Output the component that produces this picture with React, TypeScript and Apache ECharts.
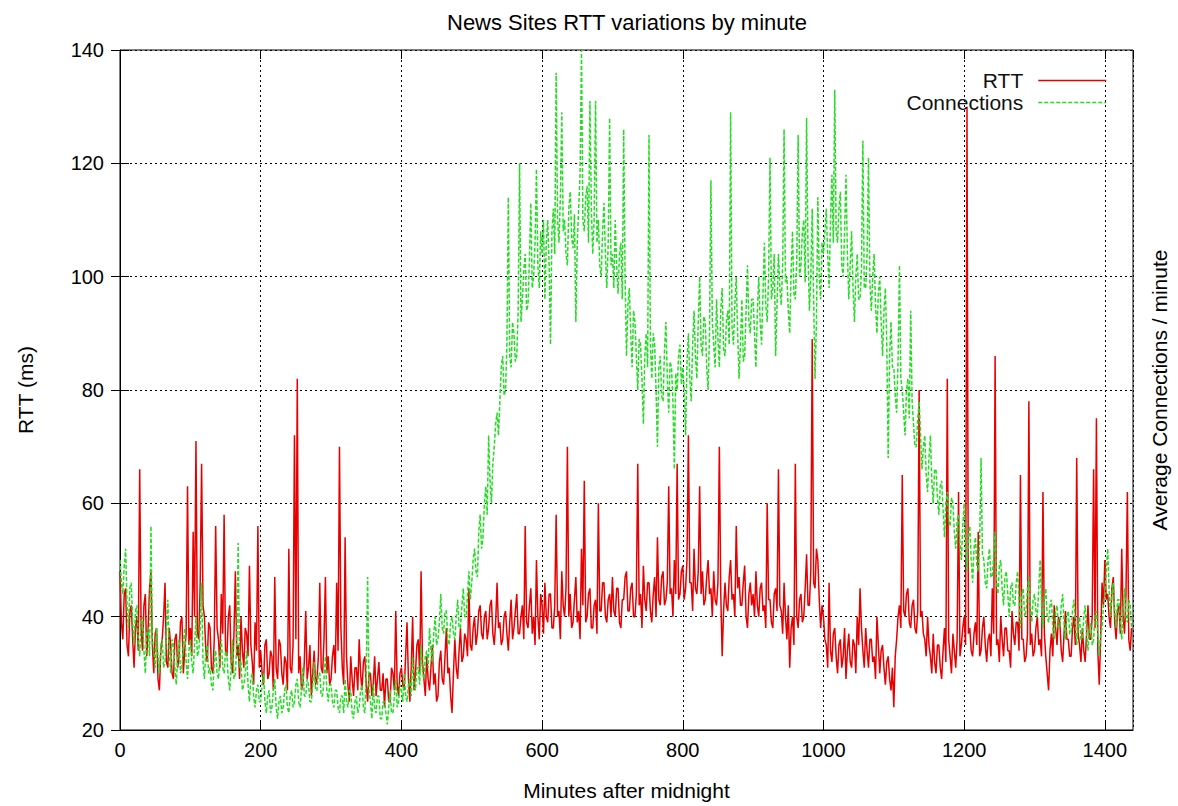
import React, { useEffect, useRef } from "react";
import * as echarts from "echarts";

// Sampling step of the series, in minutes after midnight
const STEP = 2;

// RTT (ms), one value every 2 minutes, 50 values per 100 minutes
const rtt = [
  48, 39, 36, 44, 45, 35, 33, 41, 42, 36, 31, 38, 40, 34, 66, 38, 34, 42, 44, 33, 38, 45, 48, 35, 30, 37, 38, 29, 27, 34, 36, 40, 46, 32, 31, 38, 35, 30, 29, 36, 37, 31, 33, 39, 40, 30, 34, 37, 63, 35,
  38, 33, 55, 40, 71, 37, 36, 46, 67, 42, 40, 34, 32, 39, 38, 31, 30, 36, 56, 38, 36, 31, 44, 37, 58, 34, 33, 40, 42, 32, 30, 37, 48, 33, 35, 29, 40, 34, 31, 38, 37, 33, 49, 35, 32, 28, 39, 34, 56, 31,
  34, 30, 28, 35, 36, 29, 30, 34, 33, 27, 47, 31, 29, 36, 35, 30, 28, 33, 32, 27, 52, 31, 30, 35, 72, 36, 82, 30, 33, 27, 28, 32, 41, 29, 31, 35, 26, 30, 34, 28, 29, 33, 46, 31, 30, 36, 47, 30, 33, 28,
  29, 33, 35, 30, 46, 34, 70, 38, 31, 28, 54, 33, 28, 25, 33, 29, 26, 31, 31, 27, 36, 30, 27, 32, 33, 28, 25, 30, 30, 26, 28, 33, 26, 29, 32, 27, 27, 30, 24, 29, 29, 25, 25, 31, 30, 27, 41, 28, 26, 30,
  31, 28, 27, 33, 39, 29, 25, 31, 40, 27, 30, 35, 36, 30, 48, 32, 29, 26, 33, 29, 27, 31, 35, 28, 30, 25, 26, 32, 34, 29, 28, 33, 38, 30, 31, 26, 23, 30, 36, 31, 29, 34, 38, 32, 33, 37, 36, 33, 45, 35,
  34, 38, 40, 35, 37, 41, 42, 37, 36, 40, 41, 36, 38, 42, 43, 37, 35, 39, 46, 38, 39, 35, 36, 40, 41, 37, 34, 39, 43, 36, 38, 41, 44, 37, 37, 40, 42, 36, 56, 39, 38, 42, 45, 37, 40, 35, 50, 40, 36, 44,
  42, 37, 46, 40, 39, 44, 44, 38, 38, 42, 58, 40, 41, 36, 48, 42, 40, 45, 70, 40, 44, 38, 39, 43, 47, 39, 41, 36, 52, 42, 64, 39, 40, 44, 45, 38, 38, 42, 43, 37, 60, 41, 41, 46, 46, 40, 39, 43, 44, 40,
  47, 41, 40, 45, 45, 39, 38, 43, 43, 47, 48, 41, 41, 45, 46, 40, 40, 44, 67, 42, 44, 38, 49, 43, 41, 46, 46, 41, 39, 44, 47, 40, 54, 43, 42, 47, 48, 42, 43, 46, 63, 44, 45, 40, 50, 44, 67, 43, 44, 48,
  49, 43, 45, 50, 72, 46, 46, 41, 52, 45, 44, 48, 63, 44, 48, 42, 43, 47, 50, 44, 45, 40, 48, 43, 42, 46, 70, 44, 33, 41, 46, 42, 41, 47, 50, 43, 44, 40, 56, 45, 47, 42, 42, 46, 49, 40, 38, 44, 46, 42,
  44, 40, 48, 42, 40, 45, 46, 41, 42, 38, 60, 43, 43, 39, 38, 44, 45, 41, 66, 42, 41, 37, 46, 40, 36, 42, 31, 38, 40, 35, 67, 40, 38, 43, 44, 39, 40, 45, 51, 42, 42, 48, 89, 46, 45, 52, 50, 43, 38, 42,
  40, 36, 35, 31, 46, 34, 32, 37, 38, 33, 30, 35, 36, 31, 33, 38, 29, 34, 37, 32, 31, 36, 35, 30, 40, 35, 45, 38, 34, 31, 38, 34, 31, 36, 36, 32, 33, 29, 40, 35, 30, 34, 35, 31, 28, 32, 33, 29, 27, 31,
  24, 33, 36, 40, 42, 38, 65, 41, 40, 44, 45, 39, 38, 42, 43, 38, 37, 41, 80, 40, 41, 37, 36, 33, 40, 35, 33, 30, 37, 32, 30, 35, 35, 31, 29, 34, 38, 32, 82, 36, 33, 30, 37, 34, 31, 36, 62, 33, 35, 38,
  40, 35, 130, 37, 38, 34, 33, 37, 39, 35, 55, 33, 34, 38, 40, 35, 32, 36, 37, 33, 45, 37, 86, 35, 36, 32, 40, 36, 33, 38, 38, 34, 34, 31, 41, 37, 35, 39, 39, 34, 65, 36, 36, 32, 33, 37, 78, 35, 37, 33,
  34, 38, 40, 35, 36, 33, 62, 37, 33, 30, 27, 34, 37, 33, 42, 38, 35, 40, 39, 34, 32, 37, 41, 36, 36, 33, 33, 38, 40, 35, 68, 37, 35, 32, 38, 34, 32, 37, 42, 36, 36, 40, 66, 38, 75, 34, 28, 36, 46, 42,
  50, 43, 44, 40, 38, 45, 47, 39, 36, 41, 42, 37, 52, 40, 37, 44, 62, 36, 34, 38,
];

// Average connections / minute, one value every 2 minutes
const connections = [
  50, 46, 44, 49, 52, 42, 38, 45, 46, 39, 35, 41, 42, 36, 33, 39, 40, 34, 30, 37, 38, 33, 56, 36, 34, 31, 38, 33, 30, 35, 36, 31, 32, 37, 43, 34, 30, 36, 35, 31, 28, 33, 36, 30, 31, 35, 38, 32, 29, 34,
  36, 32, 30, 35, 40, 33, 34, 38, 46, 32, 29, 34, 35, 30, 31, 28, 27, 32, 34, 30, 29, 33, 36, 31, 30, 34, 33, 29, 27, 31, 36, 29, 30, 35, 53, 31, 32, 27, 28, 30, 34, 28, 25, 29, 30, 26, 24, 27, 28, 25,
  25, 28, 30, 25, 23, 26, 27, 23, 24, 27, 29, 24, 22, 25, 26, 23, 24, 27, 28, 24, 23, 26, 27, 24, 25, 28, 29, 25, 24, 27, 31, 26, 26, 29, 28, 25, 25, 28, 32, 27, 27, 30, 30, 26, 26, 29, 33, 27, 25, 28,
  28, 25, 24, 27, 27, 24, 23, 26, 26, 23, 29, 25, 24, 27, 27, 23, 22, 25, 26, 23, 24, 27, 28, 24, 23, 30, 47, 27, 25, 22, 28, 24, 23, 26, 26, 22, 22, 25, 25, 23, 21, 24, 27, 23, 23, 26, 29, 24, 25, 28,
  27, 25, 30, 26, 25, 28, 29, 26, 33, 28, 27, 31, 31, 28, 35, 30, 29, 33, 34, 31, 38, 34, 32, 37, 40, 35, 36, 39, 44, 38, 37, 41, 41, 36, 35, 39, 40, 37, 36, 40, 43, 38, 38, 42, 45, 40, 40, 44, 48, 43,
  46, 50, 52, 48, 47, 55, 58, 52, 54, 60, 63, 58, 72, 64, 60, 67, 70, 74, 76, 72, 78, 84, 86, 79, 80, 88, 114, 86, 84, 92, 90, 85, 86, 94, 120, 92, 96, 101, 104, 94, 95, 103, 113, 98, 100, 106, 119, 102, 98, 108,
  104, 110, 96, 106, 110, 102, 88, 108, 112, 104, 136, 110, 106, 114, 129, 108, 110, 104, 102, 112, 115, 107, 105, 111, 92, 106, 112, 118, 140, 110, 108, 114, 116, 106, 131, 112, 104, 110, 131, 106, 110, 102, 100, 108, 113, 104, 98, 106, 128, 102,
  104, 98, 110, 102, 97, 104, 106, 96, 126, 100, 86, 95, 98, 90, 84, 94, 92, 86, 80, 89, 88, 82, 74, 86, 90, 84, 125, 88, 82, 90, 88, 80, 70, 84, 86, 79, 78, 87, 92, 82, 76, 85, 84, 78, 66, 83, 80, 86, 88, 81,
  84, 80, 72, 85, 90, 82, 78, 88, 94, 86, 82, 92, 100, 88, 86, 93, 92, 84, 80, 90, 117, 92, 88, 84, 96, 89, 84, 94, 98, 87, 86, 92, 94, 88, 129, 91, 88, 95, 100, 90, 82, 88, 96, 85, 86, 94, 102, 92, 90, 96,
  96, 90, 84, 94, 100, 92, 88, 97, 106, 95, 92, 100, 121, 96, 98, 104, 86, 95, 104, 98, 95, 102, 126, 99, 100, 94, 90, 101, 108, 97, 96, 103, 125, 100, 102, 108, 110, 99, 128, 104, 94, 100, 112, 96, 82, 92, 114, 100, 96, 106,
  104, 108, 112, 104, 98, 110, 118, 106, 133, 108, 106, 112, 115, 102, 100, 108, 118, 104, 96, 102, 108, 98, 92, 100, 104, 96, 96, 101, 124, 98, 98, 104, 121, 99, 94, 100, 104, 95, 90, 97, 100, 92, 86, 94, 98, 88, 68, 86, 92, 84,
  84, 79, 76, 85, 102, 82, 80, 76, 72, 80, 82, 75, 94, 78, 74, 70, 70, 75, 78, 72, 66, 70, 72, 65, 62, 68, 72, 64, 60, 66, 66, 61, 58, 63, 64, 59, 54, 60, 62, 57, 56, 61, 60, 55, 52, 57, 58, 53, 50, 56,
  60, 52, 48, 54, 56, 50, 46, 52, 54, 49, 48, 53, 68, 51, 50, 46, 45, 50, 52, 47, 47, 51, 55, 46, 44, 49, 50, 45, 42, 47, 48, 44, 40, 45, 46, 42, 42, 46, 48, 43, 38, 44, 45, 40, 41, 45, 47, 42, 39, 43,
  44, 41, 40, 45, 50, 42, 38, 43, 45, 40, 39, 42, 43, 38, 36, 41, 42, 38, 38, 42, 44, 39, 36, 40, 41, 37, 37, 41, 43, 39, 35, 38, 40, 36, 36, 40, 42, 37, 34, 38, 39, 35, 36, 40, 41, 37, 33, 37, 38, 42,
  44, 48, 52, 45, 40, 44, 46, 41, 38, 43, 43, 39, 36, 41, 45, 40, 39, 43, 42, 38,
];

const seriesNames = ["RTT", "Connections"];
const titleText = "News Sites RTT variations by minute";
const xName = "Minutes after midnight";
const yName = "RTT (ms)";
const y2Name = "Average Connections / minute";

const FONT = "'Liberation Sans', Arial, Helvetica, sans-serif";
const RED = "#e80000";
const GREEN = "#22dd22";

export default function App() {
  const ref = useRef<HTMLDivElement>(null);

  useEffect(() => {
    if (!ref.current) return;
    const chart = echarts.init(ref.current, null, { renderer: "svg" });
    const minutes = rtt.map((_, i) => i * STEP);
    const tickStyle = { inside: true, length: 9, lineStyle: { color: "#000", width: 1 } };
    const splitStyle = { show: true, lineStyle: { color: "#000", width: 1, type: [2, 3] } };
    const plain = (v: number) => String(v);

    const legendBase = {
      right: 66,
      orient: "vertical",
      align: "right",
      itemWidth: 68,
      itemHeight: 14,
      itemStyle: { opacity: 0 },
      textStyle: { fontSize: 21, color: "#111", fontFamily: FONT, padding: [0, 10, 0, 0] },
    };

    chart.setOption({
      animation: false,
      backgroundColor: "#fff",
      textStyle: { fontFamily: FONT },
      title: {
        text: titleText,
        left: 442,
        top: 6,
        textStyle: { fontSize: 22, fontWeight: "normal", color: "#000", fontFamily: FONT },
      },
      legend: [
        { ...legendBase, data: [seriesNames[0]], top: 65, lineStyle: { color: RED, width: 1.5 } },
        { ...legendBase, data: [seriesNames[1]], top: 87, lineStyle: { color: GREEN, width: 1.5, type: [4, 2] } },
      ],
      grid: {
        left: 120,
        right: 41,
        top: 50,
        bottom: 71,
        show: true,
        borderColor: "#000",
        borderWidth: 1,
        backgroundColor: "transparent",
      },
      xAxis: [
        {
          type: "value",
          min: 0,
          max: 1440,
          interval: 200,
          position: "bottom",
          name: xName,
          nameLocation: "middle",
          nameGap: 50,
          nameTextStyle: { fontSize: 21, color: "#000", fontFamily: FONT },
          axisLine: { show: true, lineStyle: { color: "#000", width: 1 } },
          axisTick: tickStyle,
          axisLabel: { fontSize: 20, color: "#000", margin: 10, showMaxLabel: false, fontFamily: FONT, formatter: plain },
          splitLine: splitStyle,
        },
        {
          type: "value",
          min: 0,
          max: 1440,
          interval: 200,
          position: "top",
          axisLine: { show: false },
          axisTick: tickStyle,
          axisLabel: { show: false },
          splitLine: { show: false },
        },
      ],
      yAxis: [
        {
          type: "value",
          min: 20,
          max: 140,
          interval: 20,
          position: "left",
          name: yName,
          nameLocation: "middle",
          nameRotate: 90,
          nameGap: 84,
          nameTextStyle: { fontSize: 21, color: "#000", fontFamily: FONT },
          axisLine: { show: true, lineStyle: { color: "#000", width: 1 } },
          axisTick: tickStyle,
          axisLabel: { fontSize: 20, color: "#000", margin: 16, fontFamily: FONT, formatter: plain },
          splitLine: splitStyle,
        },
        {
          type: "value",
          min: 20,
          max: 140,
          interval: 20,
          position: "right",
          name: y2Name,
          nameLocation: "middle",
          nameRotate: 90,
          nameGap: 16,
          nameTextStyle: { fontSize: 21, color: "#000", fontFamily: FONT },
          axisLine: { show: false },
          axisTick: tickStyle,
          axisLabel: { show: false },
          splitLine: { show: false },
        },
      ],
      series: [
        {
          name: seriesNames[0],
          type: "line",
          xAxisIndex: 0,
          yAxisIndex: 0,
          symbol: "none",
          data: minutes.map((m, i) => [m, rtt[i]]),
          lineStyle: { color: RED, width: 1.5 },
          itemStyle: { color: RED },
          z: 2,
        },
        {
          name: seriesNames[1],
          type: "line",
          xAxisIndex: 0,
          yAxisIndex: 1,
          symbol: "none",
          data: minutes.map((m, i) => [m, connections[i]]),
          lineStyle: { color: GREEN, width: 1.5, type: [4, 2] },
          itemStyle: { color: GREEN },
          z: 3,
        },
      ],
    });

    return () => chart.dispose();
  }, []);

  return (
    <div
      ref={ref}
      style={{ position: "fixed", left: 0, top: 0, width: 1178, height: 806, background: "#fff" }}
    />
  );
}
